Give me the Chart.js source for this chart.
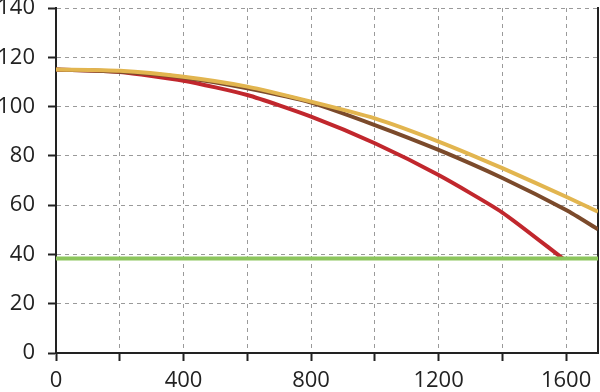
<!DOCTYPE html>
<html>
<head>
<meta charset="utf-8">
<script src="https://cdn.jsdelivr.net/npm/chart.js@4.4.1/dist/chart.umd.min.js"></script>
<style>
  html, body { margin: 0; padding: 0; background: #fff; }
  #wrap { width: 600px; height: 392px; }
</style>
</head>
<body>
<div id="wrap"><canvas id="chart"></canvas></div>
<script>
const xValues = [0, 200, 400, 600, 800, 1000, 1200, 1400, 1600, 1700];
const goldValues = [115, 114.5, 112.1, 108.1, 102, 95.2, 85.8, 75, 63.4, 57.3];
const brownValues = [115, 114.1, 111.8, 107.4, 101.6, 92.5, 82.4, 71, 58, 50.2];
const redX = [0, 200, 400, 600, 800, 1000, 1200, 1400, 1590];
const redValues = [115, 114, 110.5, 104.7, 95.9, 85.1, 72.2, 57, 38.3];
const limitX = [0, 1700];
const limitValues = [38.3, 38.3];

const toPoints = (xs, ys) => xs.map((x, i) => ({ x: x, y: ys[i] }));

document.addEventListener("DOMContentLoaded", () => {
    const ctx = document.getElementById('chart').getContext('2d');
    const font = { family: 'Open Sans', size: 22 };
    const gridOpts = {
        color: '#9a9a9a',
        tickBorderDash: [],
        tickColor: '#222',
        tickWidth: 2,
        tickLength: 8
    };

    new Chart(ctx, {
        type: 'line',
        data: {
            datasets: [
                { data: toPoints(limitX, limitValues), borderColor: '#8cc55c', borderWidth: 4 },
                { data: toPoints(xValues, goldValues), borderColor: '#e2b54f', borderWidth: 4 },
                { data: toPoints(xValues, brownValues), borderColor: '#7b4a2b', borderWidth: 4 },
                { data: toPoints(redX, redValues), borderColor: '#c1272d', borderWidth: 4 }
            ]
        },
        options: {
            responsive: true,
            maintainAspectRatio: false,
            animation: false,
            layout: { padding: { top: 0, right: 1 } },
            elements: { point: { radius: 0 }, line: { tension: 0.2, borderCapStyle: 'butt' } },
            plugins: { legend: { display: false }, tooltip: { enabled: false } },
            scales: {
                x: {
                    type: 'linear',
                    min: 0,
                    max: 1700,
                    border: { color: '#222', width: 2, dash: [4, 4] },
                    grid: gridOpts,
                    ticks: {
                        stepSize: 200,
                        includeBounds: false,
                        color: '#222',
                        font: font,
                        padding: 7,
                        maxRotation: 0,
                        autoSkip: false,
                        callback: v => (v % 400 === 0 ? v : '')
                    },
                    afterFit: scale => { scale.height = 39; }
                },
                y: {
                    min: 0,
                    max: 140,
                    border: { color: '#222', width: 2, dash: [4, 4] },
                    grid: gridOpts,
                    ticks: { stepSize: 20, color: '#222', font: font, padding: 13 },
                    afterFit: scale => { scale.width = 56; scale.paddingTop = 8; }
                },
                y2: {
                    position: 'right',
                    min: 0,
                    max: 140,
                    border: { color: '#222', width: 2 },
                    grid: { display: false },
                    ticks: { display: false },
                    afterFit: scale => { scale.width = 1; }
                }
            }
        }
    });
});
</script>
</body>
</html>
